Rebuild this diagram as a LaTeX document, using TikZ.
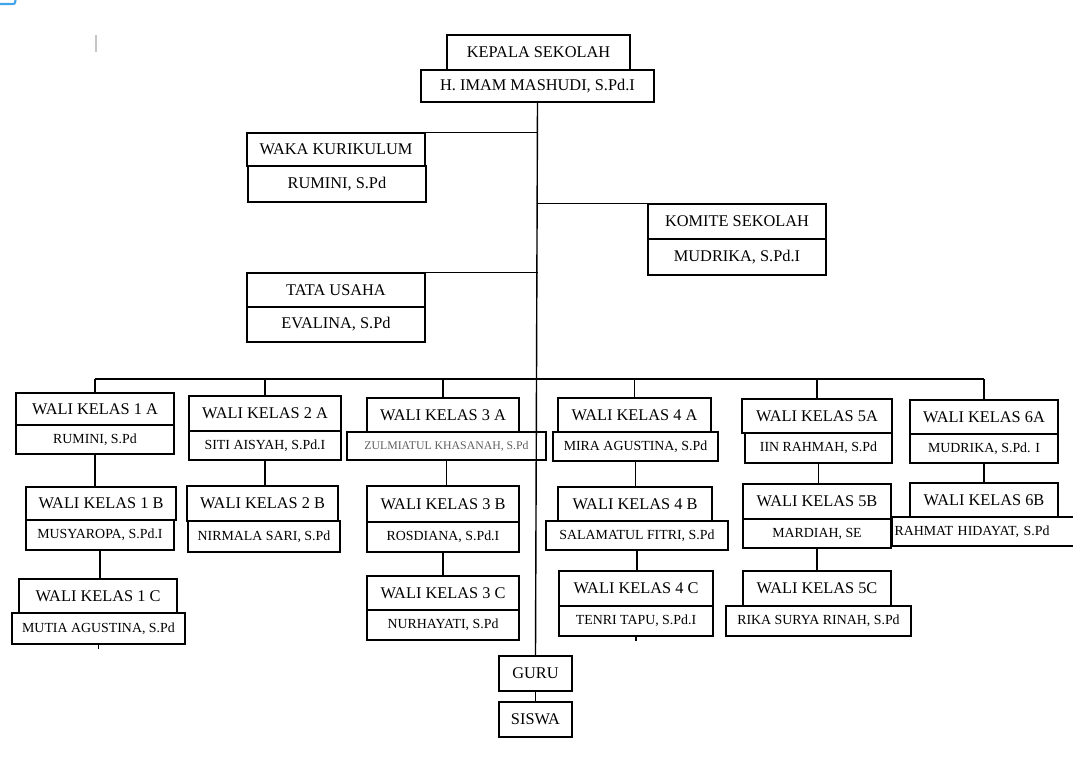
\documentclass[tikz,border=0pt]{standalone}
\usepackage{fontspec}
\setmainfont{Liberation Serif}
\definecolor{biruujung}{RGB}{66,165,235}
\definecolor{abuteks}{RGB}{95,95,95}

\begin{document}
\begin{tikzpicture}[x=0.2mm,y=-0.2mm,
 kotak/.style 2 args={draw,line width=0.8pt,inner sep=0pt,minimum width=#1*0.2mm,minimum height=#2*0.2mm},
 judul/.style={font=\fontsize{9.3}{11}\selectfont},
 nama/.style={font=\fontsize{7.9}{9}\selectfont},
 garis/.style={line width=0.8pt}]
\useasboundingbox (0,0) rectangle (1073,769);
\draw[biruujung,line width=1.2pt] (0,4) -- (11,4) .. controls (15,4) .. (15.5,0);
\draw[gray!45,line width=0.6pt] (96,35) -- (96,52);

 \node[kotak={183}{35},judul] (kepala) at(538.5,52.5) {KEPALA SEKOLAH};
 \node[kotak={233}{32},judul] (kepalaNama) at(537.5,86) {H. IMAM MASHUDI, S.Pd.I};
 \node[kotak={178}{33},judul] (waka) at(336,149.5) {WAKA KURIKULUM};
 \node[kotak={178}{36},judul] (wakaNama) at(337,184) {RUMINI, S.Pd};
 \node[kotak={178}{35},judul] (komite) at(737,221.5) {KOMITE SEKOLAH};
 \node[kotak={178}{36},judul] (komiteNama) at(737,257) {MUDRIKA, S.Pd.I};
 \node[kotak={178}{34},judul] (tu) at(336,290) {TATA USAHA};
 \node[kotak={178}{35},judul] (tuNama) at(336,324.5) {EVALINA, S.Pd};

 \node[kotak={158}{32},judul] (k1a) at(95,409) {WALI KELAS 1 A};
 \node[kotak={158}{29},nama] (n1a) at(95,439.5) {RUMINI, S.Pd};
 \node[kotak={150}{33},judul] (k1b) at(101,503.5) {WALI KELAS 1 B};
 \node[kotak={148}{30},nama] (n1b) at(100,535) {MUSYAROPA, S.Pd.I};
 \node[kotak={158}{34},judul] (k1c) at(98,596) {WALI KELAS 1 C};
 \node[kotak={173}{31},nama] (n1c) at(98.5,628.5) {MUTIA AGUSTINA, S.Pd};

 \node[kotak={152}{35},judul] (k2a) at(265,413.5) {WALI KELAS 2 A};
 \node[kotak={152}{29},nama] (n2a) at(265,445.5) {SITI AISYAH, S.Pd.I};
 \node[kotak={151}{35},judul] (k2b) at(262.5,503.5) {WALI KELAS 2 B};
 \node[kotak={152}{31},nama] (n2b) at(264,536.5) {NIRMALA SARI, S.Pd};

 \node[kotak={152}{34},judul] (k3a) at(443,415) {WALI KELAS 3 A};
 \node[kotak={199}{28},font=\fontsize{6.7}{8}\selectfont,text=abuteks] (n3a) at(446.5,446) {ZULMIATUL KHASANAH, S.Pd};
 \node[kotak={152}{36},judul] (k3b) at(443,504) {WALI KELAS 3 B};
 \node[kotak={152}{30},nama] (n3b) at(443,537) {ROSDIANA, S.Pd.I};
 \node[kotak={152}{34},judul] (k3c) at(443,593) {WALI KELAS 3 C};
 \node[kotak={152}{30},nama] (n3c) at(443,625) {NURHAYATI, S.Pd};

 \node[kotak={153}{34},judul] (k4a) at(634.5,415) {WALI KELAS 4 A};
 \node[kotak={165}{29},nama] (n4a) at(635.5,446.5) {MIRA AGUSTINA, S.Pd};
 \node[kotak={154}{34},judul] (k4b) at(635,504) {WALI KELAS 4 B};
 \node[kotak={182}{29},nama] (n4b) at(637,535.5) {SALAMATUL FITRI, S.Pd};
 \node[kotak={154}{35},judul] (k4c) at(636,588.5) {WALI KELAS 4 C};
 \node[kotak={154}{30},nama] (n4c) at(636,621) {TENRI TAPU, S.Pd.I};

 \node[kotak={150}{34},judul] (k5a) at(817,416) {WALI KELAS 5A};
 \node[kotak={147}{30},nama] (n5a) at(818.5,448) {IIN RAHMAH, S.Pd};
 \node[kotak={148}{35},judul] (k5b) at(817,501.5) {WALI KELAS 5B};
 \node[kotak={148}{29},nama] (n5b) at(817,533.5) {MARDIAH, SE};
 \node[kotak={148}{35},judul] (k5c) at(817,588.5) {WALI KELAS 5C};
 \node[kotak={185}{30},nama] (n5c) at(818.5,621) {RIKA SURYA RINAH, S.Pd};

 \node[kotak={148}{34},judul] (k6a) at(984,417) {WALI KELAS 6A};
 \node[kotak={148}{29},nama] (n6a) at(984,448.5) {MUDRIKA, S.Pd. I};
 \node[kotak={148}{34},judul] (k6b) at(984,500) {WALI KELAS 6B};
 \node[kotak={186}{29},nama,text width=181*0.2mm,align=left] (n6b) at(985,531.5) {RAHMAT HIDAYAT, S.Pd};

 \node[kotak={73}{35},judul] (guru) at(535.5,673.5) {GURU};
 \node[kotak={73}{35},judul] (siswa) at(535.5,719.5) {SISWA};

 \coordinate (bus) at(536,379);
\draw[garis] (kepalaNama.south) -- (guru.north);
\draw[garis] (guru) -- (siswa);
\draw[garis] (waka.north east) -- (waka.north east -| kepalaNama.south);
\draw[garis] (komite.north west) -- (komite.north west -| kepalaNama.south);
\draw[garis] (tu.north east) -- (tu.north east -| kepalaNama.south);
\draw[garis] (k1a.north |- bus) -- (k6a.north |- bus);
\foreach \k in {k1a,k2a,k3a,k4a,k5a,k6a}
 \draw[garis] (\k.north) -- (\k.north |- bus);
\foreach \atas/\bawah in {n1a/k1b,n1b/k1c,n2a/k2b,n3a/k3b,n3b/k3c,n4a/k4b,n4b/k4c,n5a/k5b,n5b/k5c,n6a/k6b}
 \draw[garis] (\atas.south) -- (\atas.south |- \bawah.north);
\draw[garis] (n1c.south) -- ++(0,4);
\draw[garis] (n4c.south) -- ++(0,4);
\end{tikzpicture}
\end{document}
